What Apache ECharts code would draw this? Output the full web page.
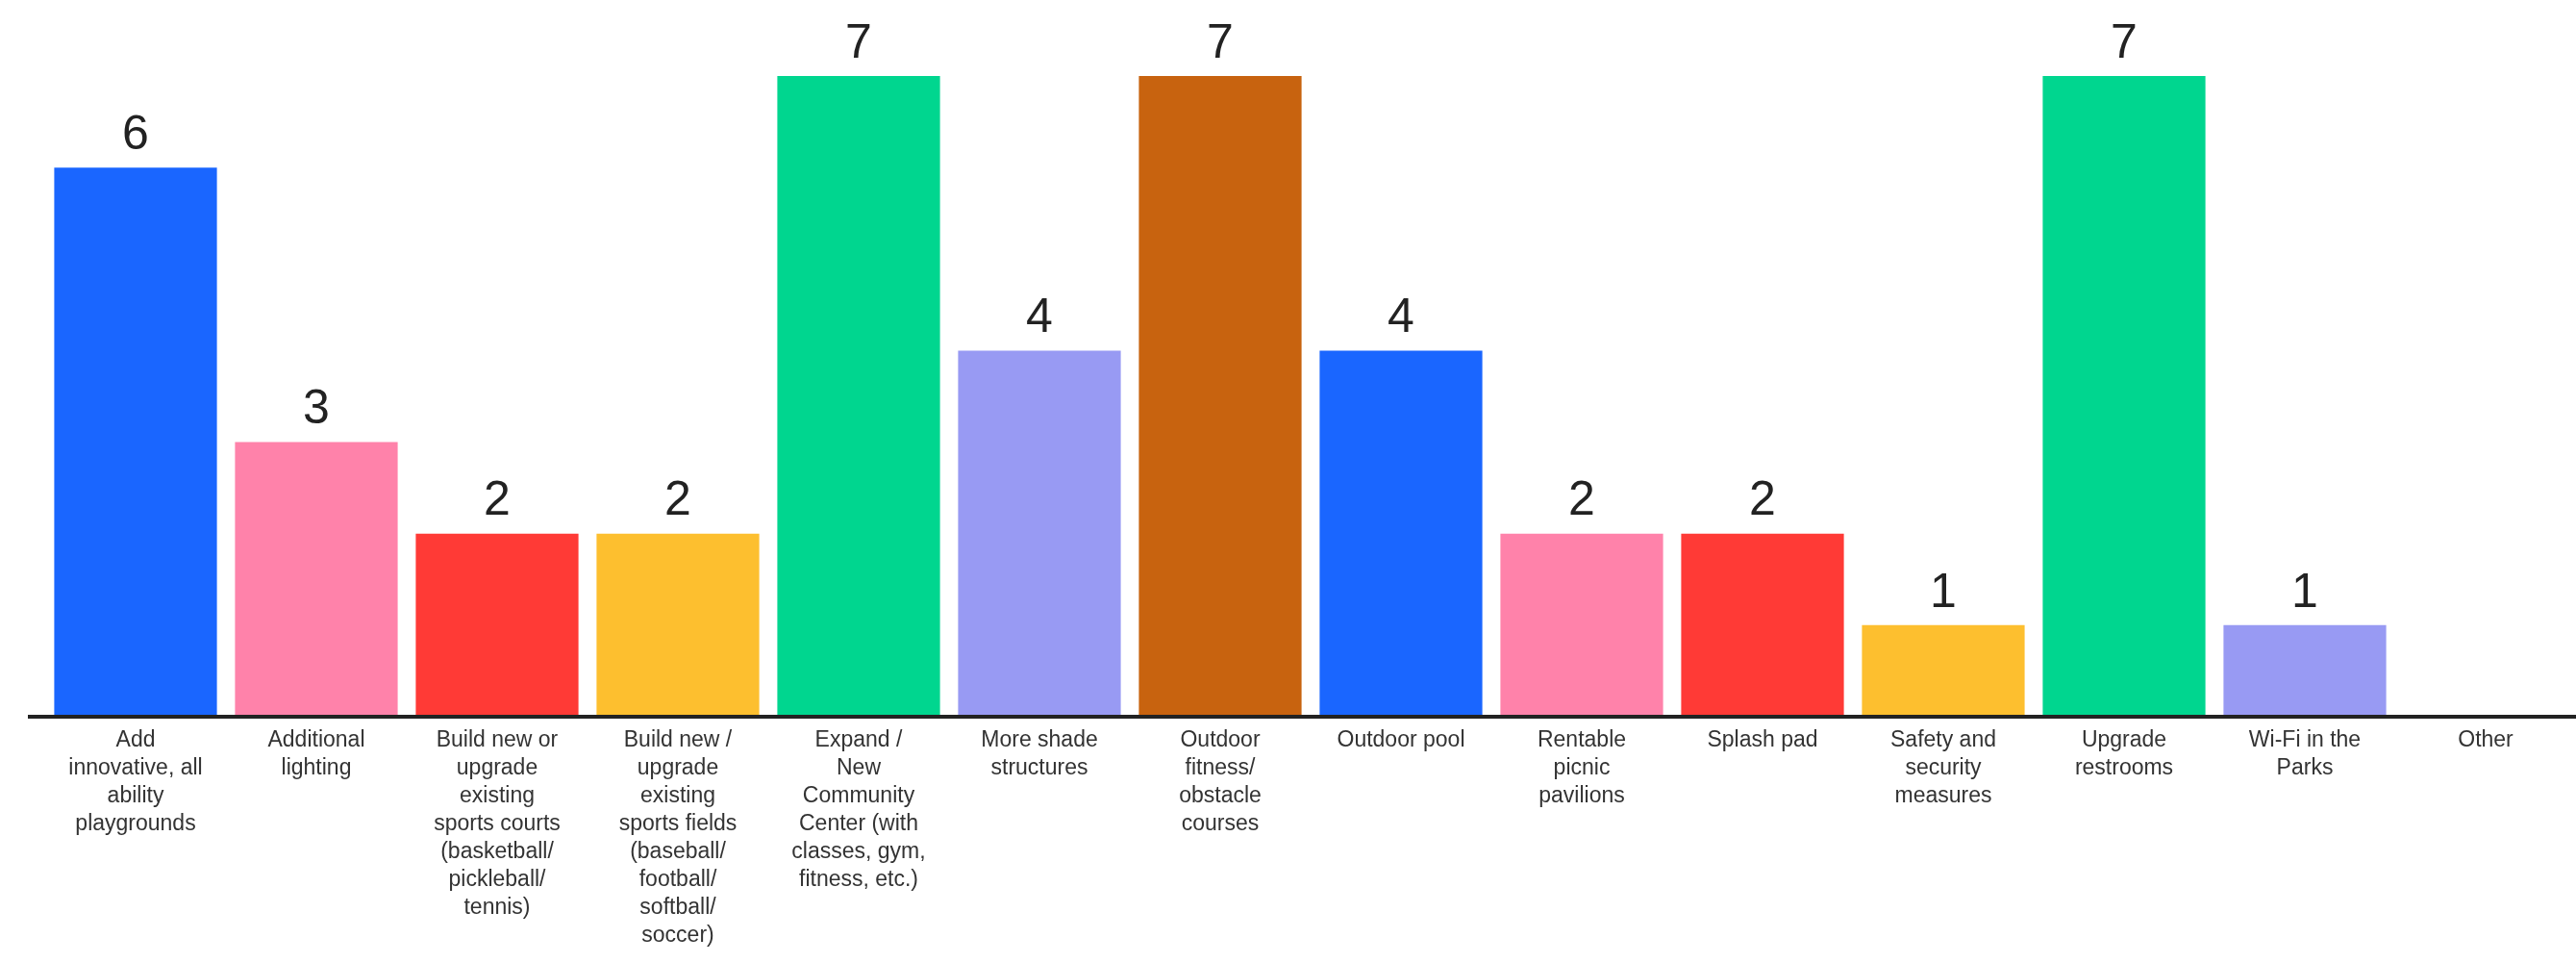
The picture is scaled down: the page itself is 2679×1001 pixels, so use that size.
<!DOCTYPE html>
<html>
<head>
<meta charset="utf-8">
<script src="https://cdn.jsdelivr.net/npm/echarts@6/dist/echarts.min.js"></script>
<style>
html,body{margin:0;padding:0;background:#fff;}
#chart{width:2679px;height:1001px;}
</style>
</head>
<body>
<div id="chart"></div>
<script>
const categories = [
  "Add\ninnovative, all\nability\nplaygrounds",
  "Additional\nlighting",
  "Build new or\nupgrade\nexisting\nsports courts\n(basketball/\npickleball/\ntennis)",
  "Build new /\nupgrade\nexisting\nsports fields\n(baseball/\nfootball/\nsoftball/\nsoccer)",
  "Expand /\nNew\nCommunity\nCenter (with\nclasses, gym,\nfitness, etc.)",
  "More shade\nstructures",
  "Outdoor\nfitness/\nobstacle\ncourses",
  "Outdoor pool",
  "Rentable\npicnic\npavilions",
  "Splash pad",
  "Safety and\nsecurity\nmeasures",
  "Upgrade\nrestrooms",
  "Wi-Fi in the\nParks",
  "Other"
];
const values = [6, 3, 2, 2, 7, 4, 7, 4, 2, 2, 1, 7, 1, 0];
const colors = ["#1a66ff", "#ff82aa", "#ff3a36", "#fdbf2f", "#00d68f", "#989af3", "#c8630f", "#1a66ff", "#ff82aa", "#ff3a36", "#fdbf2f", "#00d68f", "#989af3", "#ffffff"];

const chart = echarts.init(document.getElementById('chart'));
chart.setOption({
  animation: false,
  backgroundColor: '#ffffff',
  grid: { left: 47, right: 0, top: 79, bottom: 256, containLabel: false },
  graphic: [{
    type: 'line',
    shape: { x1: 29, y1: 745, x2: 48, y2: 745 },
    style: { stroke: '#222222', lineWidth: 4 },
    z: 10
  }],
  xAxis: {
    type: 'category',
    data: categories,
    z: 5,
    axisLine: { show: true, lineStyle: { color: '#222222', width: 4 } },
    axisTick: { show: false },
    axisLabel: {
      interval: 0,
      margin: 10,
      color: '#333333',
      fontFamily: 'Liberation Sans',
      fontSize: 23,
      lineHeight: 29,
      align: 'center'
    }
  },
  yAxis: { type: 'value', min: 0, max: 7, show: false, splitLine: { show: false } },
  series: [{
    type: 'bar',
    data: values.map((v, i) => ({ value: v, itemStyle: { color: colors[i] } })),
    barCategoryGap: '10%',
    label: {
      show: true,
      position: 'top',
      distance: 8,
      color: '#222222',
      fontFamily: 'Liberation Sans',
      fontSize: 50,
      formatter: p => p.value > 0 ? String(p.value) : ''
    }
  }]
});
</script>
</body>
</html>
